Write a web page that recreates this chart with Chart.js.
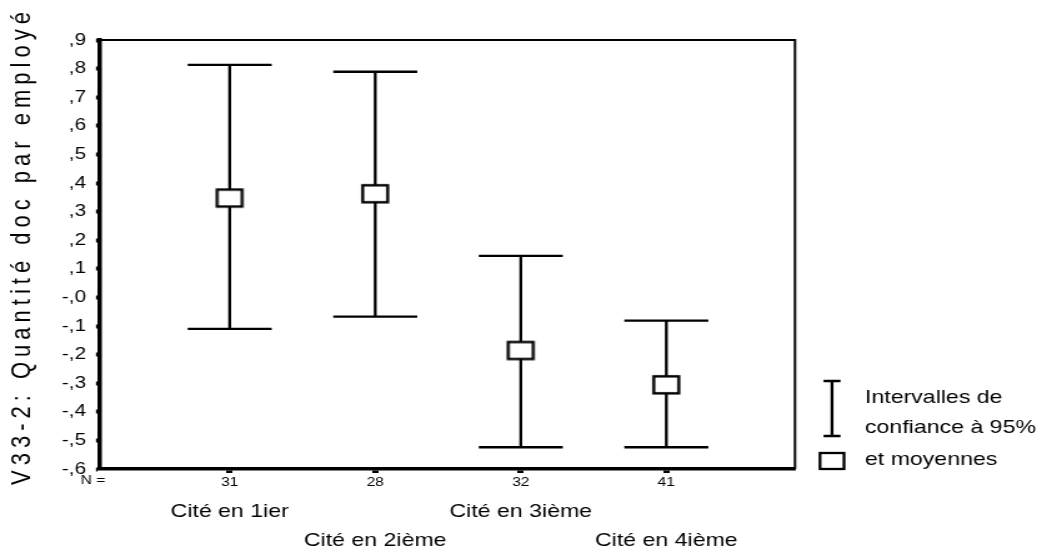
<!DOCTYPE html>
<html>
<head>
<meta charset="utf-8">
<script src="https://cdn.jsdelivr.net/npm/chart.js@4.4.1/dist/chart.umd.min.js"></script>
<style>
  html, body { margin: 0; padding: 0; background: #fff; overflow: hidden; }
  #wrap { width: 830px; height: 546px; transform: scaleX(1.24940); transform-origin: 0 0; }
  canvas { display: block; }
</style>
</head>
<body>
<div id="wrap"><canvas id="c" width="830" height="546"></canvas></div>
<script>
// ---- data ----
const categories = ["Cité en 1ier", "Cité en 2ième", "Cité en 3ième", "Cité en 4ième"];
const nValues = ["31", "28", "32", "41"];
const means = [0.347, 0.362, -0.186, -0.306];
const ciLower = [-0.110, -0.067, -0.524, -0.524];
const ciUpper = [0.813, 0.789, 0.145, -0.081];
const yTickValues = [0.9, 0.8, 0.7, 0.6, 0.5, 0.4, 0.3, 0.2, 0.1, 0, -0.1, -0.2, -0.3, -0.4, -0.5, -0.6];
const yTickLabels = [",9", ",8", ",7", ",6", ",5", ",4", ",3", ",2", ",1", "-,0", "-,1", "-,2", "-,3", "-,4", "-,5", "-,6"];
const yTitle = "V33-2: Quantité doc par employé";
const legendLines = ["Intervalles de", "confiance à 95%", "et moyennes"];
const nLabel = "N =";

const FONT = '"Liberation Sans", Arial, sans-serif';
const S = 1037 / 830; // horizontal stretch of the whole picture
const hx = (v) => v / S; // displayed x -> canvas x

function makeBox(w, h, lw) {
  const c = document.createElement('canvas');
  c.width = Math.ceil(w + lw * 2); c.height = Math.ceil(h + lw * 2);
  const x = c.getContext('2d');
  x.fillStyle = '#fff';
  x.fillRect(lw, lw, w, h);
  x.strokeStyle = '#000';
  x.lineWidth = lw;
  x.strokeRect(lw, lw, w, h);
  return c;
}
const boxImg = makeBox(hx(25), 17, 2.4);

const decorations = {
  id: 'decorations',
  beforeDatasetsDraw(chart) {
    const ctx = chart.ctx;
    const xs = chart.scales.x, ys = chart.scales.y;
    const a = chart.chartArea;
    ctx.save();
    ctx.strokeStyle = '#000';
    ctx.lineWidth = 2;
    ctx.beginPath();
    ctx.moveTo(a.left, a.top);
    ctx.lineTo(a.right, a.top);
    ctx.lineTo(a.right, a.bottom);
    ctx.stroke();
    ctx.lineWidth = 2.3;
    const cap = hx(42);
    for (let i = 0; i < categories.length; i++) {
      const px = xs.getPixelForValue(i + 1);
      const top = ys.getPixelForValue(ciUpper[i]);
      const bot = ys.getPixelForValue(ciLower[i]);
      ctx.beginPath();
      ctx.moveTo(px, top); ctx.lineTo(px, bot);
      ctx.moveTo(px - cap, top); ctx.lineTo(px + cap, top);
      ctx.moveTo(px - cap, bot); ctx.lineTo(px + cap, bot);
      ctx.stroke();
    }
    ctx.restore();
  },
  afterDraw(chart) {
    const ctx = chart.ctx;
    const xs = chart.scales.x;
    ctx.save();
    ctx.fillStyle = '#000';
    ctx.font = '18.5px ' + FONT;
    ctx.textAlign = 'center';
    ctx.textBaseline = 'middle';
    for (let i = 0; i < categories.length; i++) {
      const px = xs.getPixelForValue(i + 1);
      const py = (i % 2 === 0) ? 512 : 541;
      ctx.fillText(categories[i], px, py);
    }
    ctx.font = '12.5px ' + FONT;
    ctx.fillText(nLabel, hx(93), 481);
    // y title
    ctx.save();
    ctx.translate(hx(22), 246);
    ctx.rotate(-Math.PI / 2);
    ctx.font = '22px ' + FONT;
    ctx.letterSpacing = '5px';
    ctx.textAlign = 'center';
    ctx.textBaseline = 'middle';
    ctx.fillText(yTitle, 0, 0);
    ctx.restore();
    // legend
    ctx.strokeStyle = '#000';
    ctx.lineWidth = 2.3;
    const lx = hx(832), lc = hx(8.5);
    ctx.beginPath();
    ctx.moveTo(lx, 381); ctx.lineTo(lx, 436);
    ctx.moveTo(lx - lc, 381); ctx.lineTo(lx + lc, 381);
    ctx.moveTo(lx - lc, 436); ctx.lineTo(lx + lc, 436);
    ctx.stroke();
    ctx.strokeRect(hx(820), 453, hx(24), 16);
    ctx.font = '18.5px ' + FONT;
    ctx.textAlign = 'left';
    ctx.fillText(legendLines[0], hx(865), 398);
    ctx.fillText(legendLines[1], hx(865), 428);
    ctx.fillText(legendLines[2], hx(865), 460);
    ctx.restore();
  }
};

new Chart(document.getElementById('c'), {
  type: 'scatter',
  data: {
    datasets: [{
      label: 'moyennes',
      data: means.map((m, i) => ({ x: i + 1, y: m })),
      pointStyle: boxImg,
      pointRadius: 10,
      pointHoverRadius: 10
    }]
  },
  options: {
    responsive: false,
    animation: false,
    devicePixelRatio: 1,
    layout: { padding: { left: 0, top: 40, right: 830 - hx(795), bottom: 0 } },
    plugins: { legend: { display: false }, tooltip: { enabled: false } },
    scales: {
      x: {
        type: 'linear',
        min: 0.109,
        max: 4.884,
        afterBuildTicks(scale) { scale.ticks = nValues.map((_, i) => ({ value: i + 1 })); },
        afterFit(scale) { scale.height = 77; },
        ticks: {
          callback: (v) => nValues[Math.round(v) - 1] || '',
          color: '#000',
          font: { family: FONT, size: 12.5 },
          padding: 2,
          maxRotation: 0,
          autoSkip: false
        },
        grid: { drawOnChartArea: false, drawTicks: true, tickLength: 4, tickWidth: 5, tickColor: '#000' },
        border: { display: true, color: '#000', width: 3.5 }
      },
      y: {
        min: -0.6,
        max: 0.9,
        afterBuildTicks(scale) { scale.ticks = yTickValues.map(v => ({ value: v })); },
        afterFit(scale) { scale.width = hx(100); },
        ticks: {
          callback: (v) => {
            const i = yTickValues.findIndex(t => Math.abs(t - v) < 1e-6);
            return i >= 0 ? yTickLabels[i] : '';
          },
          color: '#000',
          font: { family: FONT, size: 16.5 },
          padding: 8,
          autoSkip: false
        },
        grid: { drawOnChartArea: false, drawTicks: true, tickLength: 3.2, tickWidth: 4, tickColor: '#000' },
        border: { display: true, color: '#000', width: 3.5 }
      }
    }
  },
  plugins: [decorations]
});
</script>
</body>
</html>
